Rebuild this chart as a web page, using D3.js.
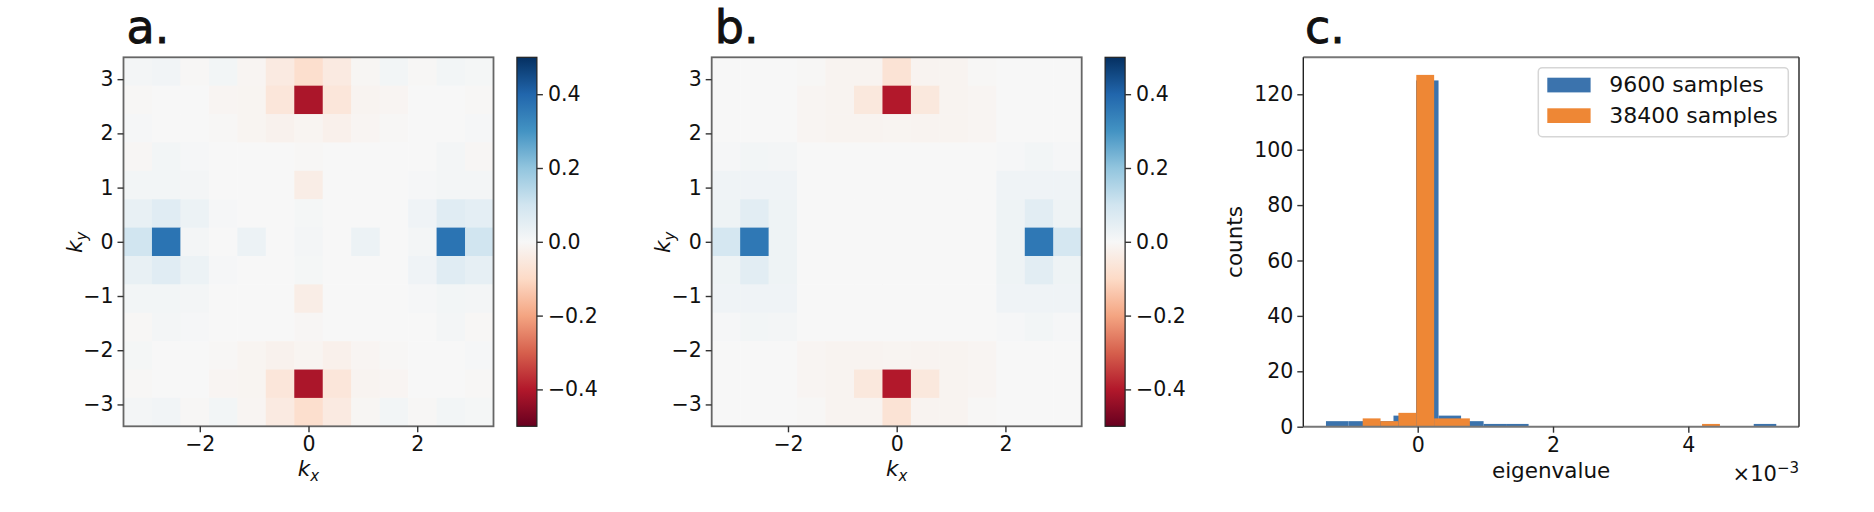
<!DOCTYPE html>
<html>
<head>
<meta charset="utf-8">
<script src="https://cdn.jsdelivr.net/npm/d3@7"></script>
<style>
  body { margin: 0; background: #fff; }
  text { font-family: "DejaVu Sans", sans-serif; fill: #111; }
</style>
</head>
<body>
<div id="chart"></div>
<script>
// k grid (kx and ky share it), ascending
const kGrid = [-3.1416, -2.618, -2.0944, -1.5708, -1.0472, -0.5236, 0, 0.5236, 1.0472, 1.5708, 2.0944, 2.618, 3.1416];
const kTicksX = [-2, 0, 2];
const kTicksY = [-3, -2, -1, 0, 1, 2, 3];
const cbarTicks = [-0.4, -0.2, 0, 0.2, 0.4];

// panel a, rows listed top (ky = +pi) to bottom (ky = -pi), columns kx = -pi .. +pi
const heatA = [
  [ 0.01,  0.015, -0.005,  0.012, -0.01,  -0.045, -0.085, -0.045, -0.008,  0.012, -0.005,  0.012,  0.008],
  [-0.004, 0.0,    0.0,   -0.01,  -0.012, -0.06,  -0.41,  -0.06,  -0.015, -0.01,   0.0,    0.0,   -0.005],
  [ 0.006, 0.0,    0.0,   -0.005, -0.012, -0.02,  -0.012, -0.025, -0.01,  -0.004,  0.0,    0.0,    0.004],
  [-0.006, 0.012,  0.006,  0.0,    0.0,    0.0,   -0.005,  0.0,    0.0,    0.0,    0.0,    0.01,  -0.006],
  [ 0.012, 0.012,  0.01,   0.0,    0.0,    0.0,   -0.035,  0.0,    0.0,    0.0,    0.006,  0.01,   0.01 ],
  [ 0.04,  0.06,   0.03,   0.005,  0.0,    0.0,    0.008,  0.0,    0.0,    0.0,    0.02,   0.06,   0.05 ],
  [ 0.10,  0.37,   0.01,   0.0,    0.03,   0.0,    0.01,   0.0,    0.03,   0.0,    0.01,   0.37,   0.10 ],
  [ 0.04,  0.06,   0.03,   0.005,  0.0,    0.0,    0.008,  0.0,    0.0,    0.0,    0.02,   0.06,   0.045],
  [ 0.012, 0.012,  0.01,   0.0,    0.0,    0.0,   -0.035,  0.0,    0.0,    0.0,    0.006,  0.012,  0.01 ],
  [-0.004, 0.01,   0.006,  0.0,    0.0,    0.0,   -0.006,  0.0,    0.0,    0.0,    0.0,    0.01,  -0.004],
  [ 0.008, 0.0,    0.0,   -0.005, -0.012, -0.02,  -0.012, -0.025, -0.01,  -0.004,  0.0,    0.0,    0.006],
  [-0.004, 0.0,    0.0,   -0.01,  -0.012, -0.06,  -0.41,  -0.06,  -0.015, -0.01,   0.0,    0.0,   -0.004],
  [ 0.01,  0.015, -0.005,  0.012, -0.01,  -0.045, -0.085, -0.045, -0.008,  0.012, -0.005,  0.012,  0.008]
];

// panel b, same layout
const heatB = [
  [ 0.0,   0.0,   0.0,   -0.004, -0.015, -0.015, -0.07,  -0.015, -0.015, -0.004,  0.0,   0.0,   0.0  ],
  [ 0.0,   0.0,   0.0,   -0.01,  -0.015, -0.055, -0.40,  -0.055, -0.015, -0.01,   0.0,   0.0,   0.0  ],
  [ 0.0,   0.0,   0.0,   -0.01,  -0.015, -0.015, -0.012, -0.015, -0.015, -0.01,   0.0,   0.0,   0.0  ],
  [ 0.006, 0.012, 0.01,   0.0,    0.0,    0.0,    0.0,    0.0,    0.0,    0.0,    0.006, 0.012, 0.006],
  [ 0.02,  0.02,  0.02,   0.0,    0.0,    0.0,    0.0,    0.0,    0.0,    0.0,    0.02,  0.02,  0.02 ],
  [ 0.025, 0.055, 0.025,  0.0,    0.0,    0.0,    0.0,    0.0,    0.0,    0.0,    0.025, 0.055, 0.025],
  [ 0.09,  0.36,  0.025,  0.0,    0.0,    0.0,    0.0,    0.0,    0.0,    0.0,    0.025, 0.36,  0.09 ],
  [ 0.025, 0.055, 0.025,  0.0,    0.0,    0.0,    0.0,    0.0,    0.0,    0.0,    0.025, 0.055, 0.025],
  [ 0.02,  0.02,  0.02,   0.0,    0.0,    0.0,    0.0,    0.0,    0.0,    0.0,    0.02,  0.02,  0.02 ],
  [ 0.006, 0.012, 0.01,   0.0,    0.0,    0.0,    0.0,    0.0,    0.0,    0.0,    0.006, 0.012, 0.006],
  [ 0.0,   0.0,   0.0,   -0.01,  -0.015, -0.015, -0.012, -0.015, -0.015, -0.01,   0.0,   0.0,   0.0  ],
  [ 0.0,   0.0,   0.0,   -0.01,  -0.015, -0.055, -0.40,  -0.055, -0.015, -0.01,   0.0,   0.0,   0.0  ],
  [ 0.0,   0.0,   0.0,   -0.004, -0.015, -0.015, -0.07,  -0.015, -0.015, -0.004,  0.0,   0.0,   0.0  ]
];

// panel c histograms (eigenvalue in units of 1e-3)
const edges9600 = [-1.356, -1.023, -0.690, -0.358, -0.025, 0.308, 0.641, 0.974, 1.306, 1.639, 1.972,
                   2.305, 2.638, 2.970, 3.303, 3.636, 3.969, 4.302, 4.634, 4.967, 5.300];
const counts9600 = [2, 2, 2, 4, 125, 4, 2, 1, 1, 0, 0, 0, 0, 0, 0, 0, 0, 0, 0, 1];
const edges38400 = [-0.813, -0.549, -0.285, -0.021, 0.243, 0.507, 0.771, 1.035, 1.299, 1.563, 1.827,
                    2.091, 2.355, 2.619, 2.883, 3.147, 3.411, 3.675, 3.939, 4.203, 4.467];
const counts38400 = [3, 2, 5, 127, 3, 3, 0, 0, 0, 0, 0, 0, 0, 0, 0, 0, 0, 0, 0, 1];
const histTicksX = [0, 2, 4];
const histTicksY = [0, 20, 40, 60, 80, 100, 120];
const seriesNames = ["9600 samples", "38400 samples"];
const seriesColors = ["#3b73ad", "#ee8735"];

const W = 1874, H = 512;
const TICK_FONT = 20.5, LABEL_FONT = 21.5;
const svg = d3.select("#chart").append("svg").attr("width", W).attr("height", H);
const defs = svg.append("defs");

// piecewise-linear RdBu, like matplotlib's colormap
const rdbu = d3.schemeRdBu[11];
const color = d3.scaleLinear()
  .domain(d3.range(11).map(i => -0.5 + i * 0.1))
  .range(rdbu)
  .interpolate(d3.interpolateRgb)
  .clamp(true);

const grad = defs.append("linearGradient").attr("id", "rdbu")
  .attr("x1", 0).attr("y1", 1).attr("x2", 0).attr("y2", 0);
rdbu.forEach((c, i) => {
  grad.append("stop").attr("offset", i / 10).attr("stop-color", c);
});

function styleAxis(g, size) {
  g.attr("font-size", size).attr("font-family", "DejaVu Sans");
  g.select(".domain").remove();
  g.selectAll(".tick line").attr("stroke", "#333").attr("stroke-width", 1.4);
  g.selectAll(".tick text").attr("fill", "#111");
}

function panelLetter(x, letter) {
  svg.append("text").attr("x", x).attr("y", 42.5)
    .attr("font-family", "Liberation Sans").attr("font-size", 46)
    .attr("stroke", "#111").attr("stroke-width", 0.9)
    .text(letter);
}

function drawHeat(x0, data, letter) {
  const size = 370, top = 57.3;
  const step = kGrid[1] - kGrid[0];
  const ext = kGrid[kGrid.length - 1] + step / 2;
  const x = d3.scaleLinear().domain([-ext, ext]).range([x0, x0 + size]);
  const y = d3.scaleLinear().domain([-ext, ext]).range([top + size - 1, top]);

  const cells = [];
  data.forEach((row, i) => row.forEach((v, j) => {
    cells.push({ kx: kGrid[j], ky: kGrid[kGrid.length - 1 - i], v: v });
  }));

  svg.append("g").selectAll("rect").data(cells).enter().append("rect")
    .attr("x", d => x(d.kx - step / 2))
    .attr("y", d => y(d.ky + step / 2))
    .attr("width", d => x(d.kx + step / 2) - x(d.kx - step / 2) + 0.5)
    .attr("height", d => y(d.ky - step / 2) - y(d.ky + step / 2) + 0.5)
    .attr("fill", d => color(d.v));

  svg.append("rect").attr("x", x0).attr("y", top).attr("width", size).attr("height", size - 1)
    .attr("fill", "none").attr("stroke", "#666").attr("stroke-width", 1.8);

  const ax = svg.append("g").attr("transform", `translate(0,${top + size - 1})`)
    .call(d3.axisBottom(x).tickValues(kTicksX).tickFormat(d3.format("d")).tickSize(6).tickPadding(4.5));
  styleAxis(ax, TICK_FONT);
  const ay = svg.append("g").attr("transform", `translate(${x0},0)`)
    .call(d3.axisLeft(y).tickValues(kTicksY).tickFormat(d3.format("d")).tickSize(6).tickPadding(4));
  styleAxis(ay, TICK_FONT);

  // colorbar
  const cx = x0 + size + 23.4, cw = 20;
  const c = d3.scaleLinear().domain([-0.5, 0.5]).range([top + size - 1, top]);
  svg.append("rect").attr("x", cx).attr("y", top).attr("width", cw).attr("height", size - 1)
    .attr("fill", "url(#rdbu)").attr("stroke", "#222").attr("stroke-width", 1.2);
  const ac = svg.append("g").attr("transform", `translate(${cx + cw},0)`)
    .call(d3.axisRight(c).tickValues(cbarTicks).tickFormat(d3.format(".1f")).tickSize(6).tickPadding(5));
  styleAxis(ac, TICK_FONT);

  // axis labels
  const lx = svg.append("text").attr("x", x0 + size / 2).attr("y", 476)
    .attr("text-anchor", "middle").attr("font-size", LABEL_FONT);
  lx.append("tspan").attr("font-style", "italic").text("k");
  lx.append("tspan").attr("font-style", "italic").attr("font-size", 15).attr("dy", 5).text("x");

  const ly = svg.append("text").attr("transform", `translate(${x0 - 42},${top + size / 2}) rotate(-90)`)
    .attr("text-anchor", "middle").attr("font-size", LABEL_FONT);
  ly.append("tspan").attr("font-style", "italic").text("k");
  ly.append("tspan").attr("font-style", "italic").attr("font-size", 15).attr("dy", 5).text("y");

  panelLetter(x0 + 3, letter);
}

drawHeat(123.5, heatA, "a.");
drawHeat(711.7, heatB, "b.");

// panel c
const px0 = 1303.3, px1 = 1799, py0 = 57.3, py1 = 426.7;
const hx = d3.scaleLinear().domain([-1.691, 5.636]).range([px0, px1]);
const hy = d3.scaleLinear().domain([0, 133.35]).range([py1, py0]);

function drawHist(edges, counts, fill) {
  const bins = counts.map((c, i) => ({ x0: edges[i], x1: edges[i + 1], n: c })).filter(b => b.n > 0);
  svg.append("g").selectAll("rect").data(bins).enter().append("rect")
    .attr("x", d => hx(d.x0))
    .attr("width", d => hx(d.x1) - hx(d.x0))
    .attr("y", d => hy(d.n))
    .attr("height", d => hy(0) - hy(d.n))
    .attr("fill", fill);
}
drawHist(edges9600, counts9600, seriesColors[0]);
drawHist(edges38400, counts38400, seriesColors[1]);

// frame: horizontal spines look grey, vertical ones dark in the reference
svg.append("line").attr("x1", px0).attr("x2", px1).attr("y1", py0).attr("y2", py0).attr("stroke", "#777").attr("stroke-width", 2);
svg.append("line").attr("x1", px0).attr("x2", px1).attr("y1", py1).attr("y2", py1).attr("stroke", "#777").attr("stroke-width", 2);
svg.append("line").attr("x1", px0).attr("x2", px0).attr("y1", py0).attr("y2", py1).attr("stroke", "#222").attr("stroke-width", 1.4);
svg.append("line").attr("x1", px1).attr("x2", px1).attr("y1", py0).attr("y2", py1).attr("stroke", "#222").attr("stroke-width", 1.4);

const hax = svg.append("g").attr("transform", `translate(0,${py1})`)
  .call(d3.axisBottom(hx).tickValues(histTicksX).tickFormat(d3.format("d")).tickSize(6).tickPadding(4.5));
styleAxis(hax, TICK_FONT);
const hay = svg.append("g").attr("transform", `translate(${px0},0)`)
  .call(d3.axisLeft(hy).tickValues(histTicksY).tickFormat(d3.format("d")).tickSize(6).tickPadding(4));
styleAxis(hay, TICK_FONT);

svg.append("text").attr("x", (px0 + px1) / 2).attr("y", 477.5).attr("text-anchor", "middle")
  .attr("font-size", LABEL_FONT).text("eigenvalue");
svg.append("text").attr("transform", `translate(1242,${(py0 + py1) / 2}) rotate(-90)`)
  .attr("text-anchor", "middle").attr("font-size", LABEL_FONT).text("counts");

const off = svg.append("text").attr("x", px1).attr("y", 480.5).attr("text-anchor", "end").attr("font-size", 21);
off.append("tspan").text("\u00d710");
off.append("tspan").attr("font-size", 15).attr("dy", -8).text("\u22123");

panelLetter(1305, "c.");

// legend
const lg = svg.append("g");
lg.append("rect").attr("x", 1538.3).attr("y", 67.7).attr("width", 250).attr("height", 69).attr("rx", 4)
  .attr("fill", "#fff").attr("stroke", "#d6d6d6").attr("stroke-width", 1.5);
seriesNames.forEach((name, i) => {
  lg.append("rect").attr("x", 1547.3).attr("y", 77.7 + i * 30.6).attr("width", 43.3).attr("height", 14.7)
    .attr("fill", seriesColors[i]);
  lg.append("text").attr("x", 1609.3).attr("y", 92.3 + i * 31).attr("font-size", 22).text(name);
});
</script>
</body>
</html>
